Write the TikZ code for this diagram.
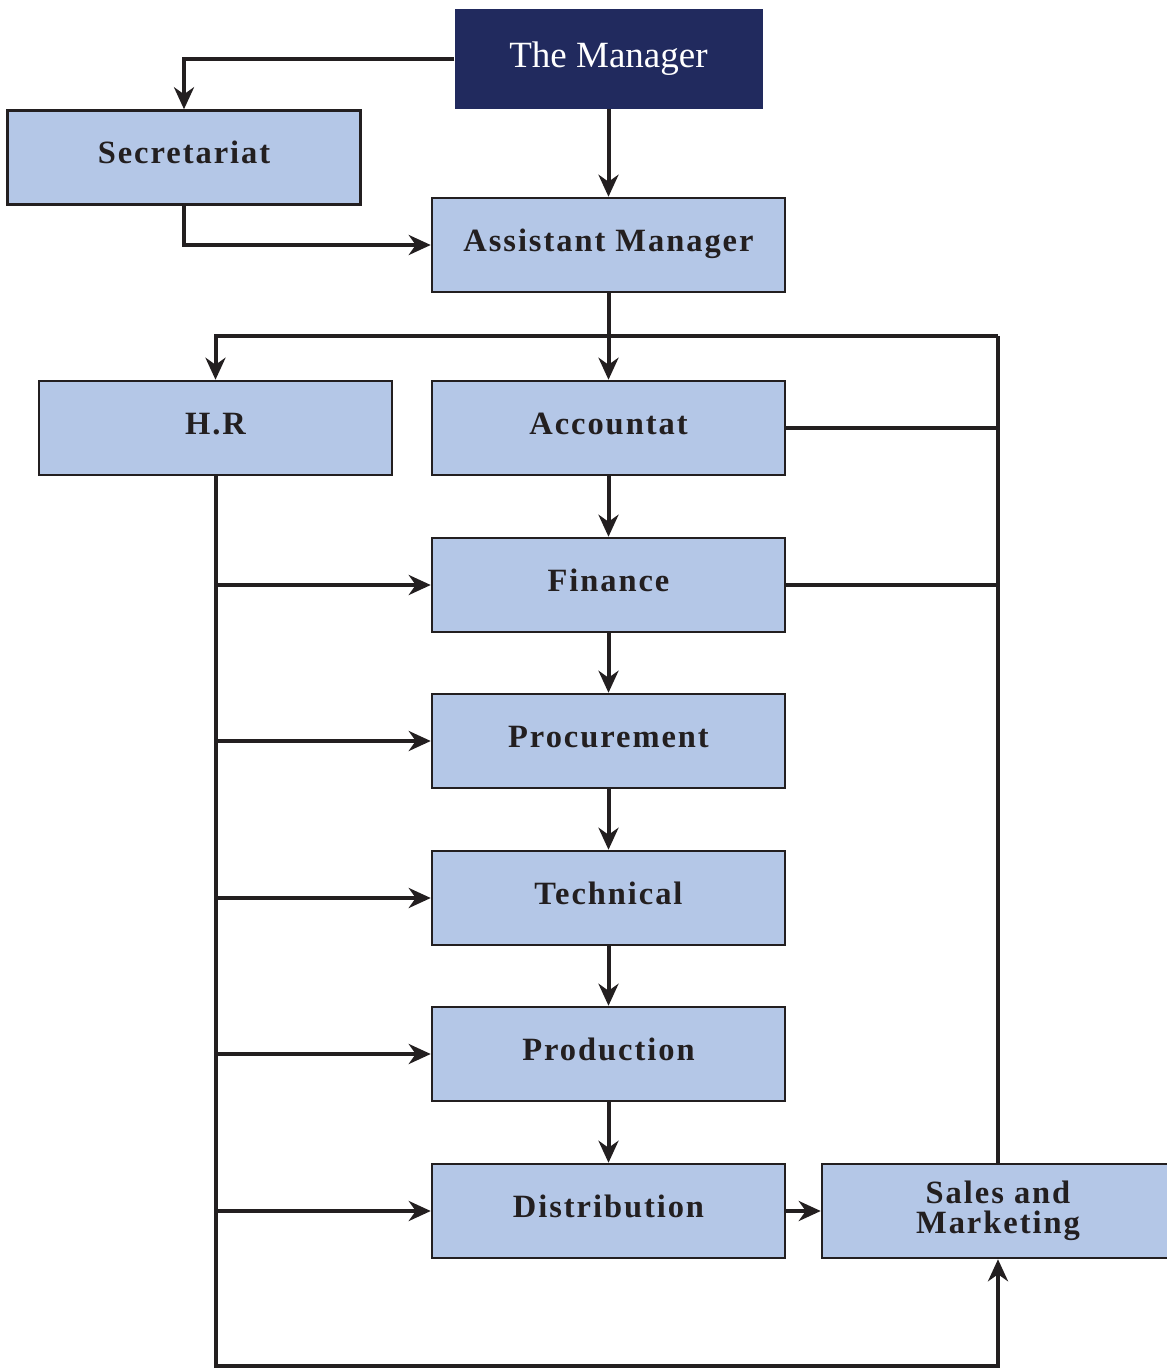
\documentclass[tikz,border=0pt]{standalone}
\usepackage{fontspec}
\setmainfont{Liberation Serif}
\newfontfamily\boxfont[LetterSpace=6]{Liberation Serif}
\usetikzlibrary{arrows.meta}
\definecolor{inkline}{HTML}{231F20}
\definecolor{boxfill}{HTML}{B4C7E7}
\definecolor{navy}{HTML}{212A5E}
\begin{document}
\begin{tikzpicture}[x=1pt,y=-1pt,
  unit/.style={rectangle, draw=inkline, line width=2.5pt, fill=boxfill,
    minimum width=353pt, minimum height=94pt, inner sep=0pt,
    text height=22pt, text depth=10pt,
    text=inkline, font=\boxfont\bfseries\fontsize{32.5}{28}\selectfont, align=center},
  head/.style={rectangle, fill=navy, minimum width=308pt, minimum height=100pt,
    inner sep=0pt, text=white, font=\fontsize{37}{40}\selectfont},
  link/.style={draw=inkline, line width=4pt},
  arr/.style={link, -{Stealth[length=22pt,width=20pt,inset=7pt]}}]
\useasboundingbox (0,0) rectangle (1167,1368);

% boxes
\node[head] (mgr) at (608.5,59) {The Manager};
\node[unit] (sec) at (184,157.5) {Secretariat};
\node[unit] (asst) at (608.5,245) {Assistant Manager};
\node[unit] (hr) at (215.5,428) {H.R};
\node[unit] (acc) at (608.5,428) {Accountat};
\node[unit] (fin) at (608.5,585) {Finance};
\node[unit] (proc) at (608.5,741) {Procurement};
\node[unit] (tech) at (608.5,898) {Technical};
\node[unit] (prod) at (608.5,1054) {Production};
\node[unit] (dist) at (608.5,1211) {Distribution};
\node[unit, minimum width=352pt, text height={}, text depth={},
  font=\boxfont\bfseries\fontsize{32.5}{29.5}\selectfont] (sales) at (998,1211)
  {Sales and\\Marketing};

% routing points
\coordinate (busright) at (998,336);
\coordinate (floor) at (215.5,1366);

% top part
\draw[arr] (mgr.west) -| (sec.north);
\draw[arr] (mgr.south) -- (asst.north);
\draw[arr] (sec.south) |- (asst.west);
\draw[arr] (asst.south) -- (acc.north);
\draw[arr] (busright) -| (hr.north);
\draw[link] (busright) -- (sales.north);
\draw[link] (acc.east) -- (acc.east -| busright);
\draw[link] (fin.east) -- (fin.east -| busright);

% main chain
\draw[arr] (acc.south) -- (fin.north);
\draw[arr] (fin.south) -- (proc.north);
\draw[arr] (proc.south) -- (tech.north);
\draw[arr] (tech.south) -- (prod.north);
\draw[arr] (prod.south) -- (dist.north);
\draw[arr] (dist.east) -- (sales.west);

% H.R feeds
\draw[arr] (hr.south) -- (floor) -| (sales.south);
\foreach \b in {fin,proc,tech,prod,dist}
  \draw[arr] (hr.south |- \b.west) -- (\b.west);
\end{tikzpicture}
\end{document}
